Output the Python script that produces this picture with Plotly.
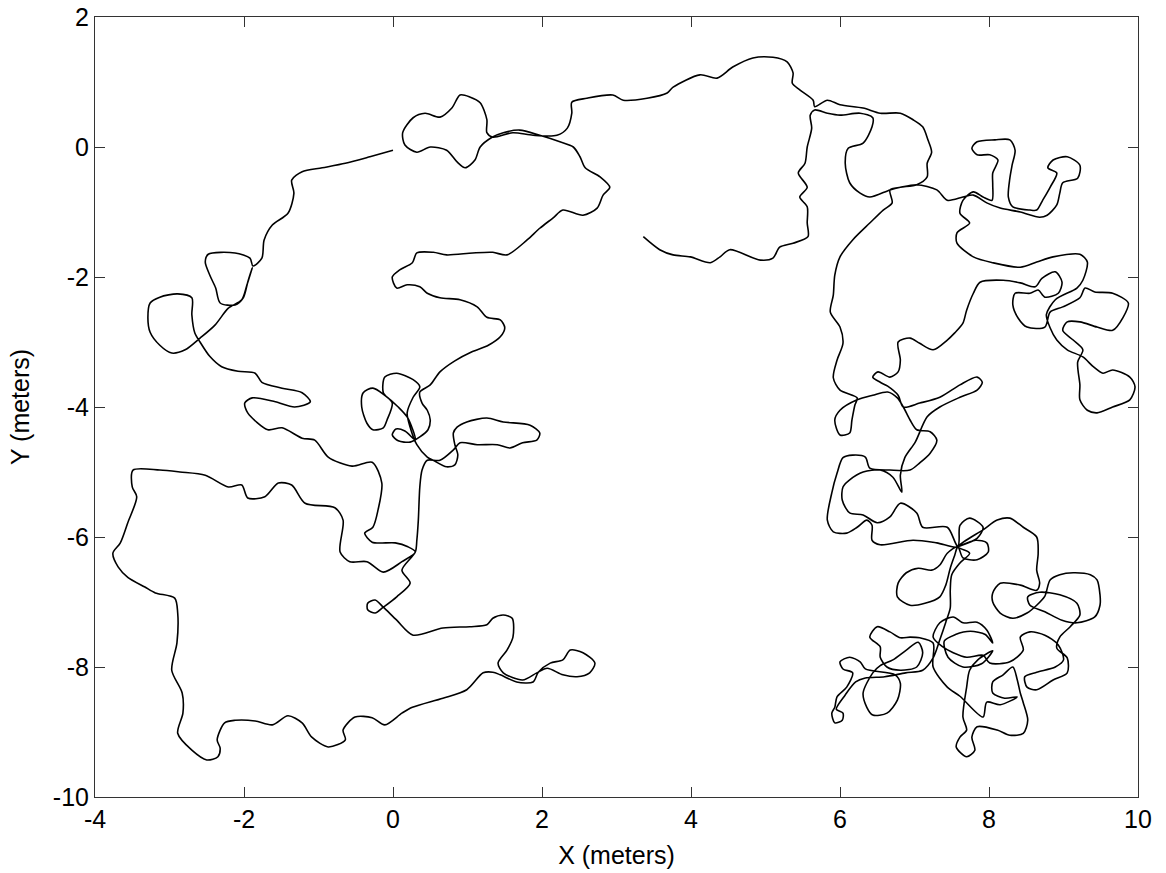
import plotly.graph_objects as go

# Trajectory, in meters, split into consecutive stretches.
west_x = [0.00,-0.31,-0.64,-0.95,-1.22,-1.36,-1.33,-1.41,-1.62,-1.73,-1.76,-1.88,
  -1.92,-2.12,-2.48,-2.52,-2.46,-2.38,-2.32,-2.12,-2.01,-1.95,-1.89,-1.96,-2.03,-2.21,-2.39,-2.59,
  -2.79,-2.97,-3.13,-3.26,-3.29,-3.26,-3.13,-2.89,-2.70,-2.70,-2.66,-2.59,-2.46,-2.30,-2.08,-1.85,-1.76,
  -1.49,-1.22,-1.11,-1.32,-1.58,-1.89,-1.99,-1.95,-1.68,-1.49,-1.22,-1.05,-0.87,-0.55,-0.28,
  -0.15,-0.20,-0.27,-0.38,-0.28,0.03,0.20,0.30,0.12,
  -0.13,-0.35,-0.58,-0.71,-0.67,-0.78,-1.18,-1.36,-1.54,-1.72,-1.95,-2.03,-2.21,-2.52,-2.86,-3.13,-3.49,
  -3.50,-3.44,-3.56,-3.66,-3.76,-3.69,-3.56,-3.33,-3.19,-2.93,-2.89,-2.90,-2.97,-2.83,-2.82,-2.89,-2.70,
  -2.50,-2.35,-2.32,-2.36,-2.26,-2.12,-1.85,-1.62,-1.41,-1.22,-1.09,-0.87,-0.64,-0.67,-0.51,-0.28,-0.11,
  0.12,0.26,0.67,0.99,1.21,1.34,1.44,1.66,1.88,1.95,2.11,2.28,2.38,2.55,2.71,2.64,2.47,2.28,2.07,1.93,
  1.74,1.48,1.41,1.53,1.61,1.60,1.48,1.34,1.26,1.03,0.67,0.27,0.05,-0.13,-0.24,-0.34,-0.34,-0.24,-0.13,
  0.05,0.23,0.12,0.30,0.32,0.34,0.36,0.39,0.46,
  0.63,0.81,0.90,1.13,1.40,1.57,1.74,1.93,1.97,1.84,1.48,1.26,0.99,0.86,0.81,0.83,0.87,0.83,0.72,0.54,0.46,0.32,
  0.23,0.19,0.27,0.36,0.27,0.05,-0.11,-0.13,-0.01,-0.08,-0.13,-0.27,-0.35,-0.42,-0.40,-0.27,-0.11,0.07,0.20,
  0.30,0.16,0.04,-0.01,0.07,0.23,0.36,0.47,0.50,0.46,0.39,0.36,0.50,0.63]
west_y = [-0.05,-0.15,-0.25,-0.32,-0.38,-0.51,-0.71,-1.02,-1.20,-1.43,-1.71,-1.83,
  -1.71,-1.63,-1.65,-1.77,-1.97,-2.17,-2.40,-2.43,-2.32,-2.08,-1.86,-2.12,-2.35,-2.48,-2.74,-2.94,
  -3.12,-3.17,-3.05,-2.85,-2.63,-2.40,-2.31,-2.26,-2.32,-2.58,-2.86,-3.00,-3.22,-3.38,-3.45,-3.48,-3.62,
  -3.71,-3.78,-3.92,-4.00,-3.92,-3.86,-3.94,-4.09,-4.35,-4.32,-4.48,-4.51,-4.77,-4.91,-4.85,
  -5.17,-5.58,-5.85,-5.94,-6.08,-6.09,-6.15,-6.23,-6.38,
  -6.54,-6.38,-6.38,-6.23,-5.74,-5.55,-5.48,-5.20,-5.17,-5.38,-5.40,-5.20,-5.23,-5.05,-5.00,-4.97,-4.97,
  -5.23,-5.38,-5.78,-6.09,-6.25,-6.46,-6.62,-6.77,-6.86,-6.94,-7.17,-7.63,-8.05,-8.40,-8.71,-9.02,-9.28,
  -9.43,-9.38,-9.25,-9.12,-8.86,-8.82,-8.83,-8.89,-8.75,-8.86,-9.08,-9.23,-9.12,-8.97,-8.77,-8.78,-8.89,
  -8.71,-8.62,-8.48,-8.35,-8.09,-8.08,-8.12,-8.23,-8.23,-8.08,-7.94,-7.89,-7.74,-7.78,-7.94,-8.09,-8.15,-8.12,-8.02,-8.09,
  -8.20,-8.09,-7.94,-7.74,-7.54,-7.25,-7.20,-7.25,-7.35,-7.38,-7.40,-7.51,-7.28,-7.08,-6.97,-7.02,-7.12,-7.17,-7.08,
  -6.92,-6.71,-6.51,-6.23,-6.05,-5.74,-5.23,-4.97,-4.82,
  -4.82,-4.66,-4.55,-4.58,-4.58,-4.63,-4.55,-4.51,-4.40,-4.28,-4.23,-4.17,-4.23,-4.31,-4.40,-4.58,-4.74,-4.89,-4.92,-4.82,-4.77,-4.58,
  -4.31,-4.09,-3.85,-3.69,-3.58,-3.48,-3.54,-3.78,-3.94,-4.20,-4.32,-4.35,-4.25,-4.00,-3.78,-3.71,-3.82,-4.00,-4.17,
  -4.51,-4.37,-4.34,-4.43,-4.52,-4.54,-4.46,-4.35,-4.20,-4.05,-3.94,-3.77,-3.66,-3.46]

north_x = [0.83,1.06,1.28,1.44,1.50,1.44,1.26,1.13,0.90,0.63,0.46,0.36,0.19,0.05,-0.01,0.09,0.26,0.32,
  0.54,0.72,1.07,1.34,1.53,1.80,1.97,2.15,2.28,2.55,2.74,2.82,2.91,2.78,2.58,2.51,2.42,2.24,1.97,1.70,
  1.48,1.33,1.17,1.10,0.97,0.86,0.72,0.50,0.32,0.16,0.13,0.27,0.43,0.63,0.79,0.90,1.03,1.17,1.26,1.26,
  1.34,1.61,1.88,2.20,2.34,2.40,2.40,2.60,2.95,3.09,3.41,3.68,3.76,4.12,4.35,4.56,4.83,5.10,5.29,5.37,
  5.36,5.46,5.64,5.66]
north_y = [-3.29,-3.15,-3.05,-2.92,-2.78,-2.66,-2.62,-2.46,-2.35,-2.32,-2.25,-2.15,-2.12,-2.17,-2.00,-1.89,-1.78,-1.63,
  -1.62,-1.66,-1.63,-1.62,-1.66,-1.43,-1.25,-1.09,-0.97,-1.05,-0.94,-0.74,-0.62,-0.46,-0.32,-0.15,0.00,0.08,0.18,0.26,
  0.22,0.15,0.00,-0.20,-0.32,-0.23,-0.05,0.00,-0.08,0.03,0.22,0.45,0.52,0.46,0.60,0.80,0.77,0.68,0.42,0.22,
  0.15,0.22,0.18,0.18,0.29,0.52,0.69,0.75,0.80,0.72,0.75,0.83,0.92,1.11,1.06,1.23,1.37,1.38,1.31,1.14,
  0.98,0.88,0.72,0.62]

east_in_x = [5.83,6.00,6.31,6.54,6.81,6.98,7.11,7.18,7.23,7.17,7.17,7.03,6.81,6.67,
  6.70,6.58,6.40,6.17,6.00,5.93,5.91,5.87,6.00,6.04,5.96,5.91,6.00,6.23,
  6.20,6.16,6.13,6.00,5.93,6.00,6.23,6.44,6.64,6.77,6.85,
  6.94,7.03,7.21,7.30,7.21,7.07,6.94,6.67,6.40,6.34,6.17,6.04,5.96,5.89,5.83,5.91,6.09,6.23,6.36,6.43,6.43,
  6.54,6.98,7.30,7.58,
  7.61,7.74,7.92,7.84,7.58,7.82,7.97,7.99,7.84,7.65,7.58,
  7.44,7.34,7.23,7.05,6.89,6.78,6.77,6.94,7.14,7.34,7.42,7.48,7.54,7.58,
  7.92,8.11,8.28,8.46,8.64,8.66,8.64,8.68]
east_in_y = [0.72,0.65,0.60,0.52,0.52,0.42,0.31,0.11,-0.08,-0.25,-0.46,-0.58,-0.62,-0.66,
  -0.86,-0.97,-1.17,-1.43,-1.69,-1.97,-2.28,-2.54,-2.77,-3.02,-3.28,-3.55,-3.74,-3.86,
  -3.97,-4.20,-4.40,-4.43,-4.20,-4.05,-3.89,-3.82,-3.77,-3.86,-4.00,
  -4.20,-4.35,-4.38,-4.51,-4.71,-4.86,-4.97,-4.97,-4.94,-4.77,-4.74,-4.78,-5.02,-5.32,-5.74,-5.92,-5.94,-5.85,-5.74,-5.82,-6.05,
  -6.12,-6.05,-6.09,-6.15,
  -5.82,-5.71,-5.85,-6.02,-6.15,-6.05,-6.09,-6.23,-6.35,-6.32,-6.15,
  -6.25,-6.43,-6.51,-6.48,-6.55,-6.71,-6.92,-7.05,-7.02,-6.92,-6.74,-6.48,-6.28,-6.15,
  -5.89,-5.74,-5.71,-5.85,-6.00,-6.25,-6.51,-6.71]

east_low_x = [8.64,8.42,8.15,8.05,8.05,8.15,8.32,8.51,8.64,8.75,8.82,8.95,9.13,9.36,9.45,9.49,9.49,9.42,
  9.18,8.98,8.75,8.55,8.52,8.68,8.95,9.18,9.22,9.09,8.95,8.91,9.05,9.05,8.86,8.64,8.51,8.48,8.64,8.89,
  9.00,8.93,8.75,8.55,
  8.42,8.46,8.28,8.01,7.92,7.70,7.52,7.38,7.25,7.34,7.52,7.65,7.84,7.97,8.05,
  7.95,7.75,7.55,7.40,7.45,7.65,7.90,8.05,
  7.85,7.74,7.70,7.65,7.70,7.61,7.56,7.70,7.81,7.77,7.84,8.11,8.28,8.46,8.52,8.46,8.42,8.38,8.32,8.19,
  8.05,8.05,8.21,8.38,8.15,7.97,7.92,7.61,7.44,7.25,7.25,7.07,6.94,6.81,6.67,6.50,6.40,6.54,6.54,6.63,
  6.81,7.03,7.11,7.05,6.89,6.71,6.54,6.44,6.31,6.36,6.44,6.63,6.77,6.81,6.74,6.34,6.27,6.13,6.00,6.04,
  6.17,6.09,5.96,5.93,5.89,5.93,6.03,6.04,5.95,6.07,6.21,6.34,6.60,6.88,7.11,7.25,7.34,7.42,7.48,7.48,
  7.50,7.61,7.74,7.58]
east_low_y = [-6.82,-6.74,-6.71,-6.86,-7.00,-7.17,-7.25,-7.17,-7.05,-6.91,-6.66,-6.58,-6.55,-6.58,-6.66,-6.89,-7.05,-7.23,
  -7.32,-7.28,-7.15,-7.05,-6.92,-6.85,-6.89,-7.02,-7.20,-7.38,-7.54,-7.71,-7.86,-8.09,-8.20,-8.35,-8.31,-8.15,-8.08,-8.00,
  -7.89,-7.66,-7.51,-7.46,
  -7.54,-7.74,-7.92,-7.94,-7.82,-7.85,-7.78,-7.69,-7.54,-7.32,-7.23,-7.32,-7.31,-7.43,-7.63,
  -7.50,-7.45,-7.50,-7.60,-7.85,-8.00,-7.95,-7.75,
  -7.89,-8.05,-8.31,-8.77,-8.97,-9.08,-9.23,-9.38,-9.28,-9.08,-8.92,-8.97,-9.05,-9.02,-8.82,-8.55,-8.40,-8.20,-8.00,-8.12,
  -8.23,-8.40,-8.48,-8.46,-8.58,-8.54,-8.77,-8.45,-8.31,-8.00,-7.63,-7.55,-7.54,-7.55,-7.46,-7.38,-7.54,-7.69,-7.85,-8.00,
  -8.05,-8.00,-7.78,-7.62,-7.74,-7.89,-7.98,-8.09,-8.40,-8.62,-8.74,-8.71,-8.51,-8.25,-8.12,-8.03,-7.92,-7.85,-7.92,-8.03,
  -8.09,-8.31,-8.46,-8.62,-8.71,-8.86,-8.82,-8.71,-8.65,-8.43,-8.23,-8.17,-8.15,-8.09,-8.05,-7.86,-7.58,-7.31,-7.09,-6.82,
  -6.58,-6.40,-6.25,-6.15]

east_out_x = [7.44,7.11,7.03,6.81,6.67,6.50,6.31,6.13,6.03,6.04,6.13,6.31,6.54,6.71,6.83,6.81,6.87,7.01,
  7.17,7.34,7.61,7.84,7.91,7.84,7.61,7.34,7.07,6.85,6.78,6.64,6.54,6.44,6.51,6.67,6.78,6.81,6.78,
  6.94,7.07,7.25,7.44,7.54,7.65,7.70,7.79,7.88,
  8.19,8.42,8.62,8.71,8.89,8.98,8.93,8.75,8.66,8.55,8.35,8.32,8.39,8.51,8.75,8.82,8.99,9.22,9.29,9.42,
  9.66,9.87,9.80,9.66,9.45,9.22,9.05,8.99,9.13,9.26,9.19,9.22,9.22,9.32,9.45,9.66,9.89,9.96,9.89,9.66,
  9.53,9.40,9.26,9.05,8.91,8.82,8.77,8.89,9.18,9.26,9.32,9.22,8.86,8.64,8.42,8.05,7.79,7.57,7.57,7.74,
  7.61,7.65,
  7.79,7.92,8.04,8.05,8.05,8.12,8.01,7.84,7.77,7.84,8.08,8.28,8.35,8.31,8.28,8.26,8.32,8.55,8.64,8.72,
  8.82,8.91,8.79,8.86,9.05,9.22,9.19,8.99,8.95,8.91,8.78,8.68,8.42,8.15,7.97,7.79,7.65,7.44,7.30,7.03,
  6.81,6.67,6.40,6.27,6.13,6.07,6.11,6.31,6.43,6.44,6.27,6.00,5.83,5.66,
  5.60,5.62,5.56,5.53,5.44,5.56,5.46,5.56,5.56,5.57,5.37,5.19,5.10,4.93,4.52,4.39,4.26,3.99,3.76,3.58,3.36]
east_out_y = [-5.85,-5.85,-5.63,-5.48,-5.69,-5.78,-5.66,-5.63,-5.43,-5.23,-5.12,-5.00,-4.97,-5.08,-5.31,-5.05,-4.78,-4.54,
  -4.15,-4.00,-3.85,-3.74,-3.62,-3.54,-3.66,-3.85,-3.94,-4.00,-3.82,-3.68,-3.62,-3.54,-3.46,-3.54,-3.46,-3.28,-3.00,
  -2.94,-3.02,-3.12,-2.97,-2.86,-2.71,-2.51,-2.25,-2.08,
  -2.05,-2.09,-2.15,-2.02,-1.92,-2.08,-2.25,-2.31,-2.20,-2.25,-2.25,-2.43,-2.63,-2.77,-2.77,-2.54,-2.46,-2.32,-2.17,-2.23,
  -2.25,-2.40,-2.62,-2.82,-2.77,-2.69,-2.69,-2.82,-2.97,-3.12,-3.31,-3.66,-3.89,-4.05,-4.09,-4.00,-3.89,-3.69,-3.54,-3.43,
  -3.48,-3.38,-3.23,-3.12,-2.97,-2.78,-2.58,-2.35,-2.17,-2.05,-1.77,-1.65,-1.69,-1.77,-1.85,-1.78,-1.69,-1.48,-1.32,-1.17,
  -1.02,-0.82,
  -0.69,-0.77,-0.82,-0.58,-0.40,-0.20,-0.12,-0.12,-0.02,0.08,0.11,0.11,-0.05,-0.28,-0.48,-0.77,-0.92,-0.97,-0.97,-0.82,
  -0.62,-0.40,-0.32,-0.20,-0.15,-0.28,-0.48,-0.55,-0.71,-0.89,-1.05,-1.08,-1.00,-0.94,-0.86,-0.74,-0.77,-0.82,-0.66,-0.58,
  -0.62,-0.66,-0.77,-0.71,-0.55,-0.25,-0.02,0.06,0.31,0.45,0.52,0.49,0.52,0.57,
  0.49,0.29,0.00,-0.25,-0.40,-0.62,-0.77,-0.92,-1.17,-1.38,-1.48,-1.54,-1.71,-1.74,-1.58,-1.69,-1.78,-1.69,-1.66,-1.58,-1.38]

x_ticks = [-4, -2, 0, 2, 4, 6, 8, 10]
x_tick_text = ["-4", "-2", "0", "2", "4", "6", "8", "10"]
y_ticks = [-10, -8, -6, -4, -2, 0, 2]
y_tick_text = ["-10", "-8", "-6", "-4", "-2", "0", "2"]

path_x = west_x + north_x + east_in_x + east_low_x + east_out_x
path_y = west_y + north_y + east_in_y + east_low_y + east_out_y

fig = go.Figure(go.Scatter(x=path_x, y=path_y, mode="lines",
                           line=dict(color="black", width=1.6, shape="spline", smoothing=0.8),
                           hoverinfo="skip"))

font = dict(family="Liberation Sans, Arial, sans-serif", size=25, color="black")
axis_common = dict(showgrid=False, zeroline=False, showline=True, linecolor="#333",
                   linewidth=1, mirror="ticks", ticks="inside", ticklen=10, tickwidth=1,
                   tickcolor="#333", tickfont=font, automargin=False)
fig.update_layout(
    width=1166, height=873, paper_bgcolor="white", plot_bgcolor="white",
    margin=dict(l=95, r=28, t=17, b=76), showlegend=False, font=font,
    xaxis=dict(range=[-4, 10], tickvals=x_ticks, ticktext=x_tick_text,
               title=dict(text="X (meters)", font=font, standoff=14), **axis_common),
    yaxis=dict(range=[-10, 2], tickvals=y_ticks, ticktext=y_tick_text,
               title=dict(text="Y (meters)", font=font, standoff=16), **axis_common),
)
fig.write_html("out.html", config={"displayModeBar": False},
               post_script="document.body.style.margin='0';")
